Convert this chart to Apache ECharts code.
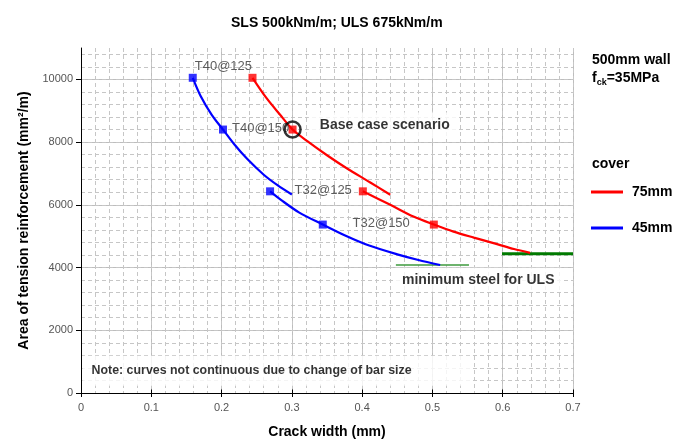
<!DOCTYPE html>
<html><head><meta charset="utf-8">
<script src="https://cdn.jsdelivr.net/npm/echarts@6/dist/echarts.min.js"></script>
<style>html,body{margin:0;padding:0;background:#fff}#c{width:684px;height:440px}</style>
</head><body><div id="c"></div>
<script>
const chartTitle = 'SLS 500kNm/m; ULS 675kNm/m';
const xAxisTitle = 'Crack width (mm)';
const yAxisTitle = 'Area of tension reinforcement (mm²/m)';
const barLabels = ['T40@125', 'T40@150', 'T32@125', 'T32@150'];
const coverNames = ['75mm', '45mm'];
const noteText = 'Note: curves not continuous due to change of bar size';
const minSteelText = 'minimum steel for ULS';
const baseCaseText = 'Base case scenario';

// 75mm cover curves
const c75_T40_x = [0.244, 0.264, 0.283, 0.301, 0.322, 0.350, 0.378, 0.411, 0.440];
const c75_T40_y = [10050, 9400, 8880, 8400, 8030, 7580, 7166, 6720, 6320];
const c75_T32_x = [0.401, 0.440, 0.473, 0.502, 0.530, 0.559, 0.592, 0.616, 0.639];
const c75_T32_y = [6430, 6000, 5624, 5370, 5146, 4955, 4745, 4590, 4470];
// 45mm cover curves
const c45_T40_x = [0.159, 0.170, 0.186, 0.202, 0.218, 0.237, 0.260, 0.280, 0.300];
const c45_T40_y = [10050, 9480, 8870, 8400, 7930, 7450, 6960, 6620, 6330];
const c45_T32_x = [0.269, 0.285, 0.310, 0.344, 0.375, 0.410, 0.450, 0.480, 0.511];
const c45_T32_y = [6430, 6150, 5760, 5370, 5030, 4700, 4420, 4240, 4080];
// bar arrangement markers (T40@125, T40@150, T32@125, T32@150)
const c75_mark_x = [0.244, 0.301, 0.401, 0.502];
const c75_mark_y = [10050, 8400, 6430, 5370];
const c45_mark_x = [0.159, 0.202, 0.269, 0.344];
const c45_mark_y = [10050, 8400, 6430, 5370];
// minimum steel for ULS
const minSteel45_x = [0.448, 0.552];
const minSteel45_y = [4080, 4080];
const minSteel75_x = [0.599, 0.700];
const minSteel75_y = [4440, 4440];
// annotation anchors (data coords)
const noteAnchor = [0, 710];
const minSteelAnchor = [0.5652, 3608];

const zip = (xs, ys) => xs.map((x, i) => [x, ys[i]]);
const FONT = '"Liberation Sans", Arial, sans-serif';
const RED = '#ff0000', BLUE = '#0000ff';

function curve(name, xs, ys, color) {
  return {
    type: 'line', name, data: zip(xs, ys), smooth: 0.3, showSymbol: false, symbol: 'none',
    lineStyle: { color, width: 2.2 }, itemStyle: { color }, z: 3, silent: true
  };
}
const tLabel = { show: true, color: '#333', fontSize: 13, fontFamily: FONT, distance: 0 };

const c45Marks = zip(c45_mark_x, c45_mark_y).map((v, i) => {
  const o = { value: v };
  if (i === 0) o.label = Object.assign({}, tLabel, { formatter: barLabels[0], position: 'right', offset: [-2, -11] });
  if (i === 1) o.label = Object.assign({}, tLabel, { formatter: barLabels[1], position: 'right', offset: [5, -1] });
  return o;
});
const c75Marks = zip(c75_mark_x, c75_mark_y).map((v, i) => {
  const o = { value: v };
  if (i === 2) o.label = Object.assign({}, tLabel, { formatter: barLabels[2], position: 'left', offset: [-7, -1] });
  if (i === 3) o.label = Object.assign({}, tLabel, { formatter: barLabels[3], position: 'left', offset: [-20, -1] });
  return o;
});

const gridDash = { color: '#c6c6c6', width: 1, type: [4, 3] };
const gridSolid = { color: '#bdbdbd', width: 1 };

const option = {
  backgroundColor: '#fff',
  animation: false,
  title: [
    { text: chartTitle, left: 226, top: 11, textStyle: { fontSize: 14, fontWeight: 'bold', color: '#000', fontFamily: FONT } },
    { text: '{b|500mm wall}\n{b|f}{s|ck}{b|=35MPa}', left: 587, top: 46,
      textStyle: { rich: {
        b: { fontSize: 14, fontWeight: 'bold', color: '#000', fontFamily: FONT, lineHeight: 18 },
        s: { fontSize: 9, fontWeight: 'bold', color: '#000', fontFamily: FONT, lineHeight: 10, verticalAlign: 'bottom' }
      } } },
    { text: 'cover', left: 587, top: 152, textStyle: { fontSize: 14, fontWeight: 'bold', color: '#000', fontFamily: FONT } }
  ],
  legend: {
    data: coverNames, orient: 'vertical', left: 586, top: 180, icon: 'rect', itemWidth: 32, itemHeight: 3,
    itemGap: 22, selectedMode: false,
    textStyle: { fontSize: 14, fontWeight: 'bold', color: '#000', fontFamily: FONT, padding: [0, 0, 0, 4] }
  },
  grid: { left: 81, right: 111, top: 48, bottom: 47, containLabel: false, outerBoundsMode: 'none' },
  xAxis: [
    { type: 'value', min: 0, max: 0.7, interval: 0.1,
      name: xAxisTitle, nameLocation: 'middle', nameGap: 32,
      nameTextStyle: { fontSize: 14, fontWeight: 'bold', color: '#000', fontFamily: FONT },
      axisLine: { show: true, onZero: false, lineStyle: { color: '#000', width: 1 } },
      axisTick: { show: true, length: 4, lineStyle: { color: '#000' } },
      axisLabel: { color: '#555', fontSize: 11, fontFamily: FONT, margin: 9 },
      splitLine: { show: true, lineStyle: gridSolid, showMinLine: false } },
    { type: 'value', min: 0, max: 0.7, interval: 0.02, position: 'bottom',
      axisLine: { show: false }, axisTick: { show: false }, axisLabel: { show: false },
      splitLine: { show: true, lineStyle: gridDash, showMinLine: false } },
    { type: 'value', min: 0, max: 0.7, interval: 0.1, position: 'bottom',
      axisLine: { show: false }, axisTick: { show: true, inside: true, length: 3.5, lineStyle: { color: '#000' } },
      axisLabel: { show: false }, splitLine: { show: false } }
  ],
  yAxis: [
    { type: 'value', min: 0, max: 11000, interval: 2000,
      name: yAxisTitle, nameLocation: 'middle', nameGap: 50,
      nameTextStyle: { fontSize: 14, fontWeight: 'bold', color: '#000', fontFamily: FONT },
      axisLine: { show: true, onZero: false, lineStyle: { color: '#000', width: 1 } },
      axisTick: { show: true, length: 5, lineStyle: { color: '#000' } },
      axisLabel: { color: '#555', fontSize: 11, fontFamily: FONT, margin: 8, showMaxLabel: false,
        formatter: v => String(v) },
      splitLine: { show: true, lineStyle: gridSolid, showMinLine: false, showMaxLine: false } },
    { type: 'value', min: 0, max: 11000, interval: 400, position: 'left',
      axisLine: { show: false }, axisTick: { show: false }, axisLabel: { show: false },
      splitLine: { show: true, lineStyle: gridDash, showMinLine: false, showMaxLine: false } }
  ],
  series: [
    // annotation boxes (white background, under curves)
    { type: 'scatter', name: 'notes', symbolSize: 1, itemStyle: { color: 'rgba(255,255,255,0)' }, z: 1, silent: true,
      data: [
        { value: noteAnchor, label: { show: true, formatter: noteText, position: 'right', distance: 0, offset: [1, 0],
          fontSize: 12.4, fontWeight: 'bold', color: '#000', fontFamily: FONT,
          backgroundColor: '#fff', padding: [9, 61, 9, 9] } },
        { value: minSteelAnchor, label: { show: true, formatter: minSteelText, position: 'inside',
          fontSize: 14, fontWeight: 'bold', color: '#000', fontFamily: FONT,
          backgroundColor: '#fff', padding: [5, 7, 5, 7] } }
      ] },
    curve('75mm', c75_T40_x, c75_T40_y, RED),
    curve('75mm', c75_T32_x, c75_T32_y, RED),
    curve('45mm', c45_T40_x, c45_T40_y, BLUE),
    curve('45mm', c45_T32_x, c45_T32_y, BLUE),
    { type: 'line', name: 'minSteel45', data: zip(minSteel45_x, minSteel45_y), symbol: 'none',
      lineStyle: { color: '#3c9a3c', width: 1.4 }, z: 2, silent: true },
    { type: 'line', name: 'minSteel75', data: zip(minSteel75_x, minSteel75_y), symbol: 'none',
      lineStyle: { color: '#007a00', width: 3.2 }, z: 2, silent: true },
    { type: 'scatter', name: 'marks75', symbol: 'rect', symbolSize: 8, itemStyle: { color: RED }, z: 4,
      data: c75Marks, silent: true },
    { type: 'scatter', name: 'marks45', symbol: 'rect', symbolSize: 8, itemStyle: { color: BLUE }, z: 4,
      data: c45Marks, silent: true },
    { type: 'scatter', name: 'baseCase', symbol: 'circle', symbolSize: 16, z: 5, silent: true,
      itemStyle: { color: 'rgba(0,0,0,0)', borderColor: '#000', borderWidth: 2.5 },
      data: [{ value: [c75_mark_x[1], c75_mark_y[1]],
        label: { show: true, formatter: baseCaseText, position: 'right', distance: 0, offset: [7, -4],
          fontSize: 14, fontWeight: 'bold', color: '#000', fontFamily: FONT,
          backgroundColor: '#fff', padding: [6, 8, 6, 11] } }] }
  ]
};
const chart = echarts.init(document.getElementById('c'), null, { renderer: 'canvas' });
chart.setOption(option);
</script></body></html>
